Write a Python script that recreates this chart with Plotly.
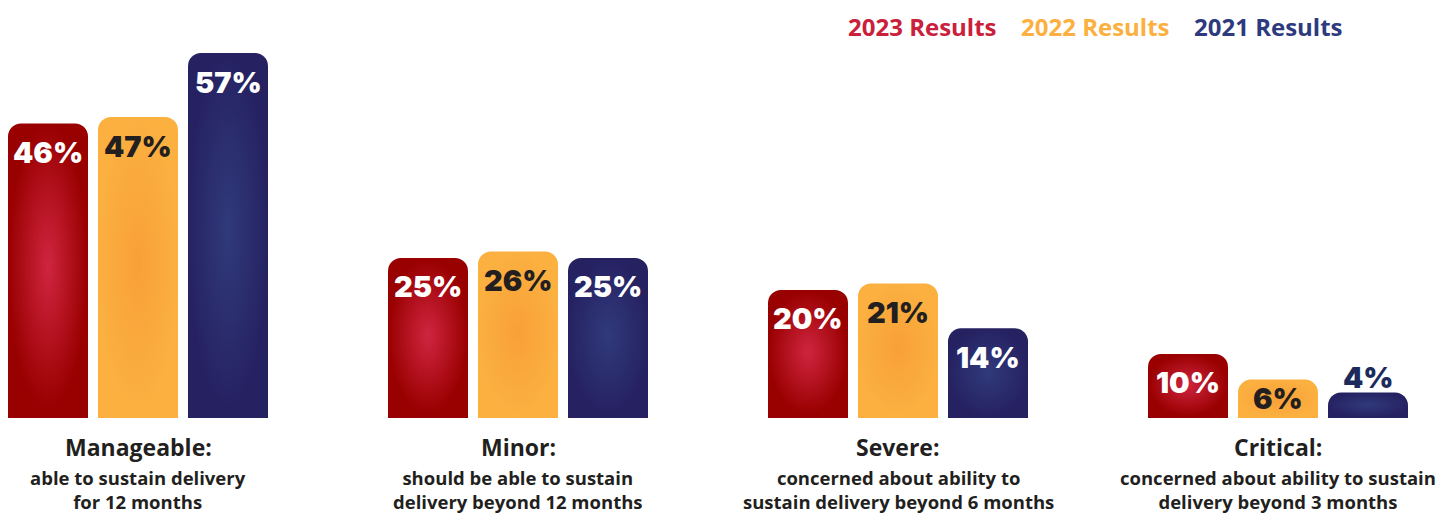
import base64
import plotly.graph_objects as go

# ---- data ----
categories = ["Manageable", "Minor", "Severe", "Critical"]
cat_titles = ["Manageable:", "Minor:", "Severe:", "Critical:"]
cat_notes = [
    "able to sustain delivery<br>for 12 months",
    "should be able to sustain<br>delivery beyond 12 months",
    "concerned about ability to<br>sustain delivery beyond 6 months",
    "concerned about ability to sustain<br>delivery beyond 3 months",
]
series_names = ["2023 Results", "2022 Results", "2021 Results"]
results_2023 = [46, 25, 20, 10]
results_2022 = [47, 26, 21, 6]
results_2021 = [57, 25, 14, 4]

# ---- styling ----
edge_colors = ["#990000", "#fbb040", "#262262"]
glow_colors = ["#cf2540", "#f8a038", "#303a7c"]
legend_colors = ["#c9213b", "#fbb040", "#2e3a7e"]
label_colors = ["#ffffff", "#231f20", "#ffffff"]
outside_label_color = "#1d2b5c"

W, H = 1450, 513
M_B = 95
plot_h = H - M_B
px_per_unit = 365 / 57
y_max = plot_h / px_per_unit

cat_px = 380
first_center = 138
x_lo = -first_center / cat_px
x_hi = (W - first_center) / cat_px

bargap = 110 / 380
bargroupgap = 10 / 90
slot = (1 - bargap) / 3
bar_w = slot * (1 - bargroupgap)

label_font = "Inter, Lato, sans-serif"
text_font = "'Open Sans', Lato, sans-serif"

all_series = [results_2023, results_2022, results_2021]

fig = go.Figure()
for k, (name, vals) in enumerate(zip(series_names, all_series)):
    fig.add_trace(go.Bar(
        x=categories, y=vals, name=name,
        marker=dict(color=edge_colors[k], line=dict(width=0)),
        hoverinfo="skip",
    ))


def glow_svg(color):
    svg = (
        '<svg xmlns="http://www.w3.org/2000/svg" width="100" height="100" '
        'viewBox="0 0 100 100" preserveAspectRatio="none">'
        '<defs><radialGradient id="g" cx="50%" cy="50%" r="50%">'
        f'<stop offset="0%" stop-color="{color}" stop-opacity="1"/>'
        f'<stop offset="100%" stop-color="{color}" stop-opacity="0"/>'
        '</radialGradient></defs>'
        '<rect x="0" y="0" width="100" height="100" fill="url(#g)"/></svg>'
    )
    return "data:image/svg+xml;base64," + base64.b64encode(svg.encode()).decode()


images = []
annotations = []
for k, vals in enumerate(all_series):
    src = glow_svg(glow_colors[k])
    for i, v in enumerate(vals):
        xc = i + (k - 1) * slot
        # soft radial glow inside each bar
        images.append(dict(
            source=src, xref="x", yref="y",
            x=xc - bar_w / 2, y=v, sizex=bar_w, sizey=v * 0.97,
            xanchor="left", yanchor="top", sizing="stretch", layer="above",
        ))
        h_px = v * px_per_unit
        if h_px < 30:
            shift, color = 15, outside_label_color
        else:
            shift, color = -min(29, h_px / 2), label_colors[k]
        annotations.append(dict(
            x=xc, y=v, xref="x", yref="y", text=f"{v}%", showarrow=False,
            yanchor="middle", yshift=shift,
            font=dict(family=label_font, size=29, color=color, weight=900),
        ))

# category captions below the bars
for i in range(len(categories)):
    annotations.append(dict(
        x=i, y=-29 / plot_h, xref="x", yref="paper", text=cat_titles[i],
        showarrow=False, yanchor="middle",
        font=dict(family=text_font, size=23, color="#231f20", weight=700),
    ))
    annotations.append(dict(
        x=i, y=-45 / plot_h, xref="x", yref="paper", text=cat_notes[i],
        showarrow=False, yanchor="top", align="center",
        font=dict(family=text_font, size=18.5, color="#231f20", weight=700),
    ))

# header legend
legend_x = [846, 1019, 1192]
for k, name in enumerate(series_names):
    annotations.append(dict(
        x=legend_x[k] / W, y=(plot_h - 27) / plot_h, xref="paper", yref="paper",
        text=name, showarrow=False, xanchor="left", yanchor="middle",
        font=dict(family=text_font, size=24, color=legend_colors[k], weight=700),
    ))

fig.update_layout(
    width=W, height=H,
    margin=dict(l=0, r=0, t=0, b=M_B, pad=0),
    paper_bgcolor="white", plot_bgcolor="white",
    barmode="group", bargap=bargap, bargroupgap=bargroupgap,
    barcornerradius=13,
    showlegend=False,
    xaxis=dict(range=[x_lo, x_hi], showticklabels=False, showgrid=False,
               zeroline=False, showline=False, ticks=""),
    yaxis=dict(range=[0, y_max], visible=False, showgrid=False, zeroline=False),
    images=images,
    annotations=annotations,
)

fig.write_html("out.html")
